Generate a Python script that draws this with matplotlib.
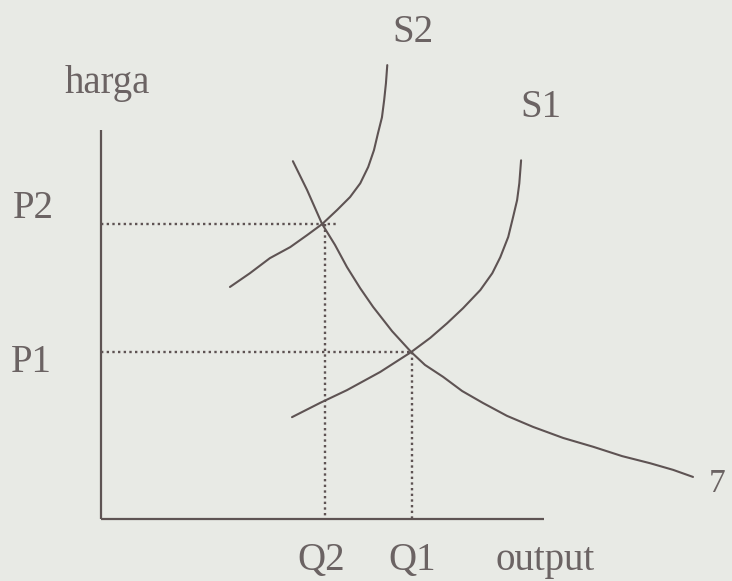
import matplotlib
matplotlib.use("Agg")
import matplotlib.pyplot as plt

# ---- data (units: output Q, price P) ----
s2_q = [2.91, 3.36, 3.81, 4.27, 4.65, 4.99, 5.33, 5.62, 5.85, 6.03, 6.16,
        6.25, 6.34, 6.39, 6.43, 6.46]
s2_p = [5.24, 5.55, 5.89, 6.14, 6.41, 6.66, 6.98, 7.27, 7.58, 7.95, 8.33,
        8.71, 9.07, 9.46, 9.84, 10.25]

s1_q = [4.31, 4.94, 5.55, 6.30, 7.00, 7.43, 7.81, 8.17, 8.56, 8.83, 9.01,
        9.19, 9.30, 9.39, 9.44, 9.48]
s1_p = [2.30, 2.62, 2.91, 3.32, 3.77, 4.09, 4.42, 4.76, 5.17, 5.55, 5.91,
        6.37, 6.82, 7.20, 7.58, 8.10]

d_q = [4.33, 4.65, 4.99, 5.28, 5.55, 5.85, 6.14, 6.57, 7.00, 7.31, 7.72,
       8.15, 8.62, 9.16, 9.75, 10.43, 11.11, 11.76, 12.39, 12.91, 13.36]
d_p = [8.08, 7.43, 6.66, 6.19, 5.69, 5.21, 4.79, 4.24, 3.77, 3.48, 3.21,
       2.89, 2.62, 2.33, 2.08, 1.83, 1.63, 1.42, 1.26, 1.11, 0.95]

Q2, Q1 = 5.06, 7.02
P2, P1 = 6.66, 3.77
axis_q_max = 10.0
axis_p_max = 8.78

bg = "#e8eae5"
ink = "#5e5353"
txt = "#6b6363"

fig = plt.figure(figsize=(7.32, 5.81), dpi=100, facecolor=bg)
ax = fig.add_axes([0, 0, 1, 1])
ax.set_facecolor(bg)
ax.set_xlim(-2.28, 14.24)
ax.set_ylim(-1.40, 11.72)
ax.axis("off")

# axes
ax.plot([0, 0], [0, axis_p_max], color=ink, lw=1.6, solid_capstyle="butt")
ax.plot([0, axis_q_max], [0, 0], color=ink, lw=1.6, solid_capstyle="butt")

# dotted guide lines
dot = (0, (1, 1.4))
ax.plot([0, Q2 + 0.27], [P2, P2], color=ink, lw=1.7, ls=dot)
ax.plot([Q2, Q2], [P2, 0], color=ink, lw=1.7, ls=dot)
ax.plot([0, Q1 - 0.05], [P1, P1], color=ink, lw=1.7, ls=dot)
ax.plot([Q1, Q1], [P1, 0], color=ink, lw=1.7, ls=dot)

# curves
for q, p in ((s2_q, s2_p), (s1_q, s1_p), (d_q, d_p)):
    ax.plot(q, p, color=ink, lw=1.5, solid_capstyle="round", solid_joinstyle="round")

font = dict(family=["Liberation Serif", "DejaVu Serif"], color=txt, fontsize=28)
ax.text(0.15, 9.62, "harga", ha="center", va="baseline", **font)
ax.text(7.04, 10.77, "S2", ha="center", va="baseline", **font)
ax.text(9.93, 9.07, "S1", ha="center", va="baseline", **font)
ax.text(-1.53, 6.79, "P2", ha="center", va="baseline", **font)
ax.text(-1.58, 3.32, "P1", ha="center", va="baseline", **font)
ax.text(4.96, -1.15, "Q2", ha="center", va="baseline", **font)
ax.text(7.02, -1.15, "Q1", ha="center", va="baseline", **font)
ax.text(10.02, -1.15, "output", ha="center", va="baseline", **font)
ax.text(13.90, 0.61, "7", ha="center", va="baseline",
        family=["Liberation Serif", "DejaVu Serif"], color=txt, fontsize=24)

fig.savefig("out.png", dpi=100, facecolor=bg)
